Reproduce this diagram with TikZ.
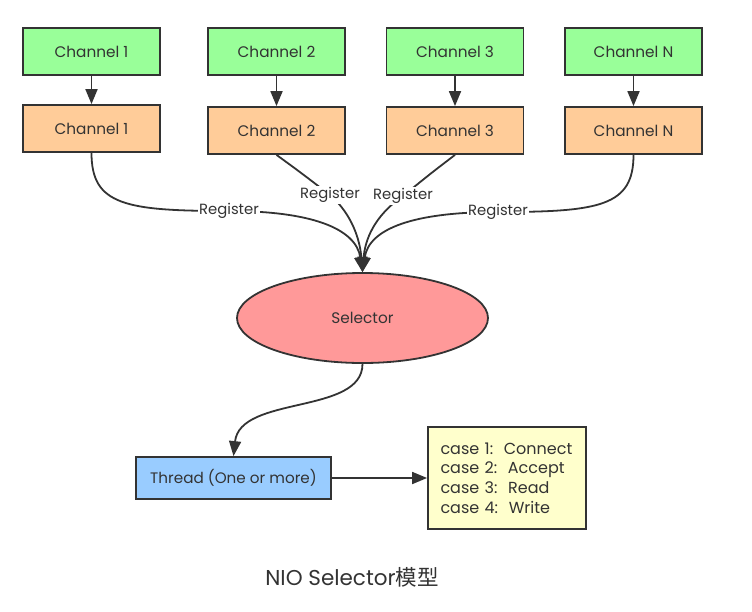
\documentclass[tikz,border=0pt]{standalone}
\usepackage{fontspec}
\setmainfont{Poppins}
\newfontfamily\cjk{Noto Sans CJK SC}
\usetikzlibrary{arrows.meta,shapes.geometric}
\definecolor{edgec}{HTML}{333333}
\definecolor{greenc}{HTML}{99FF99}
\definecolor{orangec}{HTML}{FFCC99}
\definecolor{redc}{HTML}{FF9999}
\definecolor{bluec}{HTML}{99CCFF}
\definecolor{yellowc}{HTML}{FFFFCC}
\begin{document}
\begin{tikzpicture}[x=1pt,y=-1pt,
  chbox/.style={draw=edgec, line width=1.8pt, minimum width=137pt, minimum height=47pt, inner sep=0pt, text=edgec, font=\fontsize{15.3}{18}\selectfont},
  greenbox/.style={chbox, fill=greenc},
  orangebox/.style={chbox, fill=orangec},
  conn/.style={draw=edgec, line width=1.8pt, -{Triangle[length=15pt,width=12pt]}},
  regconn/.style={draw=edgec, line width=1.8pt},
  lab/.style={fill=white, inner sep=1pt, text=edgec, font=\fontsize{14.8}{17}\selectfont}
]
\useasboundingbox (0,0) rectangle (752,611);
% top row
\node[greenbox] (g1) at (91.5,51.5) {Channel 1};
\node[greenbox] (g2) at (276.5,51.5) {Channel 2};
\node[greenbox] (g3) at (455,51.5) {Channel 3};
\node[greenbox] (gn) at (633.5,51.5) {Channel N};
% second row
\node[orangebox] (o1) at (91.5,128.5) {Channel 1};
\node[orangebox] (o2) at (276.5,130.5) {Channel 2};
\node[orangebox] (o3) at (455,130.5) {Channel 3};
\node[orangebox] (on) at (633.5,130.5) {Channel N};
% selector
\node[ellipse, draw=edgec, fill=redc, line width=1.8pt, minimum width=251pt, minimum height=90pt, inner sep=0pt, text=edgec, font=\fontsize{15.3}{18}\selectfont] (sel) at (362.5,318) {Selector};
% thread
\node[draw=edgec, fill=bluec, line width=1.8pt, minimum width=195pt, minimum height=42pt, inner sep=0pt, text=edgec, font=\fontsize{15.2}{18}\selectfont] (thr) at (233.5,478) {Thread (One or more)};
% cases
\node[draw=edgec, fill=yellowc, line width=1.8pt, minimum width=158pt, minimum height=102pt, inner sep=0pt, text width=133pt, align=left, text=edgec, font=\fontsize{16}{19.7}\selectfont] (cases) at (507,478) {case 1:\ \ Connect\\case 2:\ \ Accept\\case 3:\ \ Read\\case 4:\ \ Write};
% caption
\node[text=edgec, font=\fontsize{21.5}{26}\selectfont] (cap) at (352,577) {NIO Selector{\cjk 模型}};

% vertical arrows
\draw[conn] (g1) -- (o1);
\draw[conn] (g2) -- (o2);
\draw[conn] (g3) -- (o3);
\draw[conn] (gn) -- (on);

% register curves
\coordinate (k1) at (229,211);
\coordinate (k2) at (330,195);
\coordinate (k3) at (403,196);
\coordinate (kn) at (498,212);
\draw[regconn] (o1.south) .. controls (91.5,205) and (125,211) .. (k1);
\draw[conn] (k1) .. controls (310,211) and (356,228) .. (sel.north);
\draw[regconn] (o2.south) .. controls (300,172) .. (k2);
\draw[conn] (k2) .. controls (352,214) and (360,240) .. (sel.north);
\draw[regconn] (o3.south) .. controls (430,174) .. (k3);
\draw[conn] (k3) .. controls (374,216) and (365,240) .. (sel.north);
\draw[regconn] (on.south) .. controls (633.5,206) and (600,212) .. (kn);
\draw[conn] (kn) .. controls (415,212) and (369,228) .. (sel.north);
\node[lab] (r1) at (k1) {Register};
\node[lab] (r2) at (k2) {Register};
\node[lab] (r3) at (k3) {Register};
\node[lab] (rn) at (kn) {Register};

% selector to thread
\draw[conn] (sel.south) .. controls (362.5,415) and (240,395) .. (thr.north);
% thread to cases
\draw[conn] (thr) -- (cases);
\end{tikzpicture}
\end{document}
